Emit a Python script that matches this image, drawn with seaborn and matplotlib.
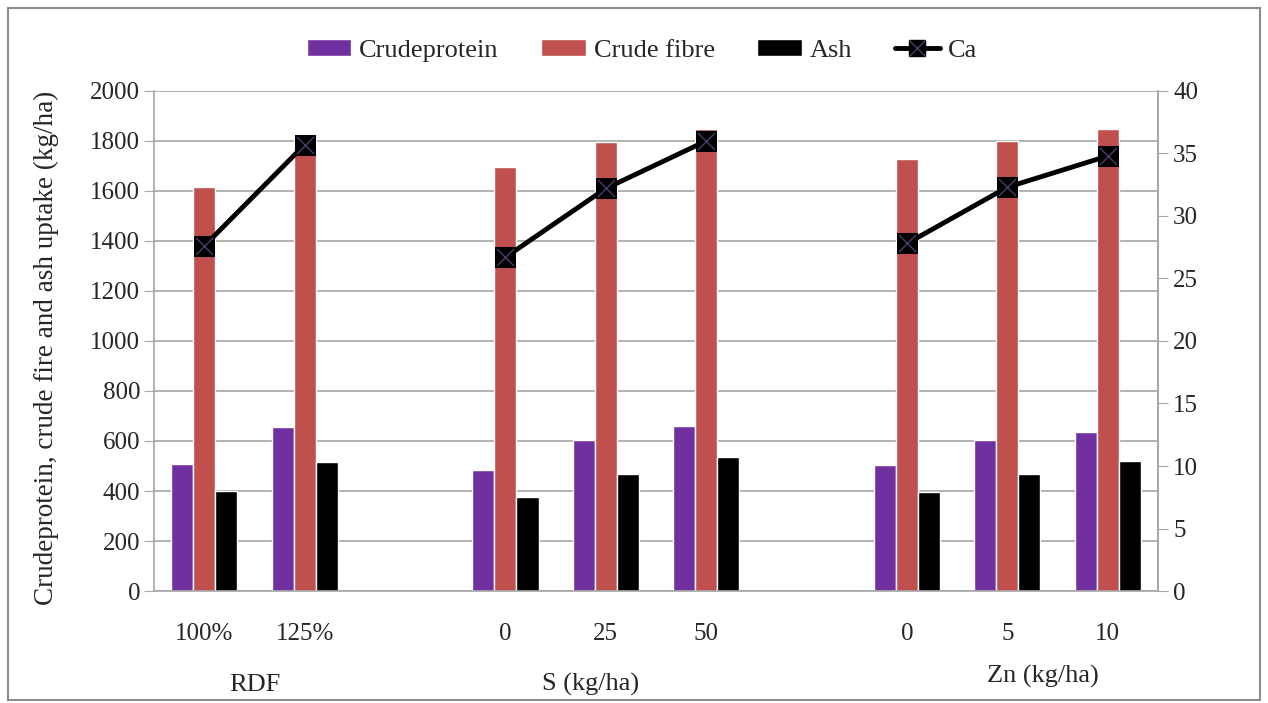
import numpy as np
import pandas as pd
import matplotlib
matplotlib.use("Agg")
import matplotlib.pyplot as plt
from matplotlib.lines import Line2D
from matplotlib.patches import Patch, Rectangle
import seaborn as sns

# ── data ────────────────────────────────────────────────────────────────
GROUPS = ["RDF", "S (kg/ha)", "Zn (kg/ha)"]
LEVELS = [["100%", "125%"], ["0", "25", "50"], ["0", "5", "10"]]

crude_protein = [510, 654, 483, 605, 659, 505, 605, 636]
crude_fibre   = [1617, 1812, 1695, 1794, 1848, 1726, 1801, 1848]
ash           = [400, 517, 378, 467, 535, 397, 467, 521]
ca            = [27.6, 35.7, 26.7, 32.2, 36.0, 27.8, 32.3, 34.8]

SERIES = ["Crudeprotein", "Crude fibre", "Ash"]
COLORS = {"Crudeprotein": "#7030A0", "Crude fibre": "#C0504D", "Ash": "#000000"}
GRID_GREY = "#A6A6A6"

# slot keys (with empty slots between groups)
slots, tick_labels, slot_group = [], [], []
for gi, (g, levs) in enumerate(zip(GROUPS, LEVELS)):
    if gi > 0:
        slots.append(f"gap{gi}")
        tick_labels.append("")
        slot_group.append(None)
    for lv in levs:
        slots.append(f"{g}|{lv}")
        tick_labels.append(lv)
        slot_group.append(g)
data_slots = [s for s in slots if not s.startswith("gap")]

df = pd.DataFrame({
    "slot": data_slots * 3,
    "nutrient": np.repeat(SERIES, len(data_slots)),
    "value": crude_protein + crude_fibre + ash,
})
ca_df = pd.DataFrame({
    "x": [slots.index(s) for s in data_slots],
    "ca": ca,
    "group": [s.split("|")[0] for s in data_slots],
})

# ── plot ────────────────────────────────────────────────────────────────
sns.set_style("white")
plt.rcParams["font.family"] = ["Liberation Serif", "DejaVu Serif"]

fig = plt.figure(figsize=(12.68, 7.03), dpi=100)
ax = fig.add_axes([0.1215, 0.1593, 0.7917, 0.7113])

sns.barplot(data=df, x="slot", y="value", hue="nutrient", order=slots,
            hue_order=SERIES, palette=COLORS, width=0.66, gap=0,
            saturation=1, ax=ax, legend=False)

ax.set_xlim(-0.5, len(slots) - 0.5)
ax.set_ylim(0, 2000)
ax.set_yticks(np.arange(0, 2001, 200))
ax.yaxis.grid(True, color=GRID_GREY, lw=1.2)
ax.set_axisbelow(True)
ax.set_xlabel("")
ax.set_ylabel("Crudeprotein, crude fire and ash uptake (kg/ha)", fontsize=19.5)
ax.yaxis.set_label_coords(-0.095, 0.486)

# excel-style ticks at category boundaries, labels at centres
ax.set_xticks(np.arange(-0.5, len(slots), 1.0))
ax.set_xticklabels([])
ax.set_xticks(np.arange(len(slots)), minor=True)
ax.set_xticklabels(tick_labels, minor=True, fontsize=18)
ax.tick_params(axis="x", which="major", length=7, color=GRID_GREY, direction="out")
ax.tick_params(axis="x", which="minor", length=0, pad=23)
ax.tick_params(axis="y", length=7, color=GRID_GREY, labelsize=18, pad=3)

for side in ["left", "bottom", "right"]:
    ax.spines[side].set_color(GRID_GREY)
    ax.spines[side].set_linewidth(1.2)
ax.spines["top"].set_visible(False)

# group labels below tick labels
group_shift = {"RDF": (0.0, -0.187), "S (kg/ha)": (-0.15, -0.187),
               "Zn (kg/ha)": (0.35, -0.17)}
for g in GROUPS:
    idx = [i for i, sg in enumerate(slot_group) if sg == g]
    dx, yy = group_shift[g]
    ax.text(np.mean(idx) + dx, yy, g, transform=ax.get_xaxis_transform(),
            ha="center", va="center", fontsize=19)

# secondary axis: Ca
ax2 = ax.twinx()
sns.lineplot(data=ca_df, x="x", y="ca", units="group", estimator=None,
             color="black", lw=3.5, marker="s", markersize=14,
             markeredgecolor="black", ax=ax2, legend=False)
sns.scatterplot(data=ca_df, x="x", y="ca", marker="x", s=150,
                color="#4B3A6B", linewidth=1, ax=ax2, legend=False, zorder=5)
ax2.set_ylim(0, 40)
ax2.set_yticks(np.arange(0, 41, 5))
ax2.set_ylabel("")
ax2.tick_params(axis="y", length=7, color=GRID_GREY, labelsize=18, pad=4)
for side in ["left", "bottom", "right", "top"]:
    ax2.spines[side].set_visible(False)
ax2.spines["right"].set_visible(True)
ax2.spines["right"].set_color(GRID_GREY)
ax2.spines["right"].set_linewidth(1.2)
ax2.set_xlim(-0.5, len(slots) - 0.5)

# legend
handles = [Patch(facecolor=COLORS[s], label=s) for s in SERIES]
ca_handle = (Line2D([], [], color="black", lw=3.5, marker="s", markersize=12),
             Line2D([], [], color="#4B3A6B", lw=0, marker="x", markersize=11,
                    markeredgewidth=1))
fig.legend(handles + [ca_handle], SERIES + ["Ca"], loc="center",
           bbox_to_anchor=(0.506, 0.928), ncol=4, frameon=False, fontsize=19,
           handlelength=1.7, handleheight=0.6, handletextpad=0.3,
           columnspacing=1.6)

# outer frame
fig.add_artist(Rectangle((0.006, 0.004), 0.988, 0.985, transform=fig.transFigure,
                         fill=False, edgecolor="#8C8C8C", lw=1.5))

fig.savefig("out.png", dpi=100)
